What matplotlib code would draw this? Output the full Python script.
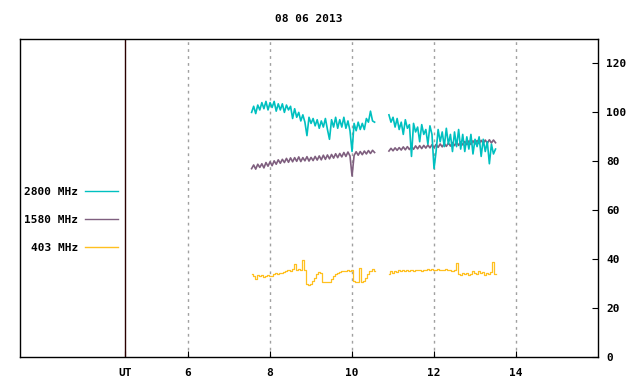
"""
Flujo de radio solar 08 06 2013 (2800, 1580 y 403 MHz)
"""

import numpy as np
import matplotlib.pyplot as plt
from matplotlib.lines import Line2D

titulo = '08 06 2013'

# muestreo cada 0.05 h; dos tramos con un hueco entre 10.55 y 10.9 UT
paso = 0.05
inicio_1 = 7.55
inicio_2 = 10.9

f2800_1 = [100, 102.5, 99.5, 103, 101, 104, 101.5, 104.5, 101, 104,
           102, 104.5, 100.5, 103.5, 101, 103.5, 100, 103, 101, 102.5,
           97.5, 101.5, 98, 100, 96.5, 99, 96, 90.5, 98, 95.5,
           97.5, 94.5, 97, 93.5, 96.5, 94, 97.5, 93, 89, 97,
           94, 98, 93.5, 97, 94, 98, 93.5, 96.5, 92.5, 84,
           95.5, 92.5, 96, 93, 95.5, 93, 97.5, 96, 100.5, 96.5, 96]
f2800_2 = [99, 96, 98, 94, 97.5, 93, 96, 91, 97, 93.5,
           95, 82, 95.5, 92, 94, 88, 95, 91, 93, 87,
           94.5, 91, 77, 84, 93, 88, 92, 86, 93.5, 87,
           91, 84, 92, 86, 93, 85, 91, 84, 90, 85,
           91, 83, 89, 86, 90, 82, 89, 84, 88, 79,
           87, 83, 85]

f1580_1 = [77, 78.5, 76.8, 78.8, 77.5, 79, 77.3, 79.5, 78, 79.8,
           78.2, 80.2, 78.8, 80.6, 79.2, 80.8, 79.5, 81.2, 79.6, 81.4,
           79.8, 81.5, 80, 81.8, 79.9, 81.5, 80.2, 81.9, 80.1, 81.6,
           80.3, 82, 80.5, 82.2, 80.6, 82.5, 80.8, 82.6, 81, 82.8,
           81.3, 83.1, 81.5, 83.2, 81.8, 83.6, 82, 83.8, 82.2, 74,
           82.4, 83.9, 82.5, 84, 82.7, 84.2, 83, 84.4, 83.2, 84.5, 83.6]
f1580_2 = [84.2, 85.3, 84.3, 85.5, 84.5, 85.6, 84.6, 85.9, 84.7, 86,
           84.8, 86.1, 84.9, 86.3, 85.1, 86.4, 85.2, 86.5, 85.4, 86.7,
           85.5, 86.8, 85.6, 86.9, 85.7, 87.1, 85.9, 87.3, 86.1, 87.5,
           86.2, 87.7, 86.4, 87.9, 86.5, 88, 86.7, 88.1, 86.8, 88.3,
           86.9, 88.4, 87.1, 88.5, 87.2, 88.6, 87.3, 88.7, 87.4, 88.8,
           87.5, 88.7, 87.6]

f403_1 = [34, 33, 32, 33.5, 33, 33.5, 32.8, 33.2, 33.5, 33,
          33.2, 33.8, 34.2, 34, 34.5, 34.3, 34.8, 35, 35.5, 35.3,
          35.8, 38, 35.5, 36, 35.5, 39.5, 35.5, 30, 29.5, 30,
          31, 32.5, 34, 34.8, 34.5, 30.8, 30.5, 30.6, 30.8, 32,
          33, 33.8, 34.5, 34.8, 35, 35.3, 35, 35.5, 35.2, 35.5,
          31, 30.5, 30.5, 36.5, 30.6, 31, 32.5, 34, 35, 35.8, 35.3]
f403_2 = [34, 35, 34.5, 35.3, 34.8, 35.5, 35, 35.5, 35.2, 35.6,
          35.2, 35.5, 35.3, 35.7, 35.4, 35.6, 35.3, 35.7, 35.5, 35.8,
          35.5, 35.8, 35.6, 35.5, 35.8, 35.4, 35.7, 35.5, 35.8, 35.5,
          35.6, 35.3, 35.5, 38.5, 34, 33.5, 34.5, 33.8, 34.2, 33.5,
          34, 35, 34.5, 33.8, 35, 34.2, 34.8, 33.6, 34.5, 34,
          34.8, 39, 33.8]

series = [
    ('2800 MHz', '#00c0c0', f2800_1, f2800_2, 'default', 1.2),
    ('1580 MHz', '#7f5f7f', f1580_1, f1580_2, 'default', 1.2),
    ('403 MHz', '#ffc020', f403_1, f403_2, 'steps-mid', 0.9),
]

x_ticks = [6, 8, 10, 12, 14]
y_ticks = [0, 20, 40, 60, 80, 100, 120]
x_ut = 4.46


def tiempos(t0, valores):
    return t0 + paso * np.arange(len(valores))


plt.rcParams['font.family'] = ['DejaVu Sans Mono']
plt.rcParams['font.weight'] = 'bold'
plt.rcParams['font.size'] = 8

fig = plt.figure(figsize=(6.4, 3.84), dpi=100)
ax = fig.add_axes([20 / 640, 27 / 384, 578 / 640, 318 / 384])

# amarillo abajo, luego morado, cian encima
for nombre, color, v1, v2, estilo, grosor in reversed(series):
    ax.plot(tiempos(inicio_1, v1), v1, color=color, lw=grosor, drawstyle=estilo)
    ax.plot(tiempos(inicio_2, v2), v2, color=color, lw=grosor, drawstyle=estilo)

for xt in x_ticks:
    ax.axvline(xt, color='#a0a0a0', lw=1.0, ls=(0, (2, 3)), zorder=0)
ax.axvline(x_ut, color='#2a0000', lw=1.0)

ax.set_xlim(1.9, 16.0)
ax.set_ylim(0, 130)
ax.set_xticks(x_ticks + [x_ut])
ax.set_xticklabels([str(t) for t in x_ticks] + ['UT'])
ax.tick_params(axis='x', direction='in', length=4, pad=8)
ax.yaxis.tick_right()
ax.set_yticks(y_ticks)
ax.tick_params(axis='y', direction='in', length=4, pad=6)
for s in ax.spines.values():
    s.set_linewidth(1.0)

ax.set_title(titulo, fontsize=8, fontweight='bold', pad=12)

handles = [Line2D([], [], color=s[1], lw=1.0) for s in series]
labels = [s[0] for s in series]
ax.legend(handles, labels, loc='center right', markerfirst=False, frameon=False,
          bbox_to_anchor=(124 / 640, 164 / 384), bbox_transform=fig.transFigure,
          handlelength=3.0, labelspacing=1.65, handletextpad=0.6, borderpad=0)

plt.savefig('out.png', dpi=100)
plt.close()
